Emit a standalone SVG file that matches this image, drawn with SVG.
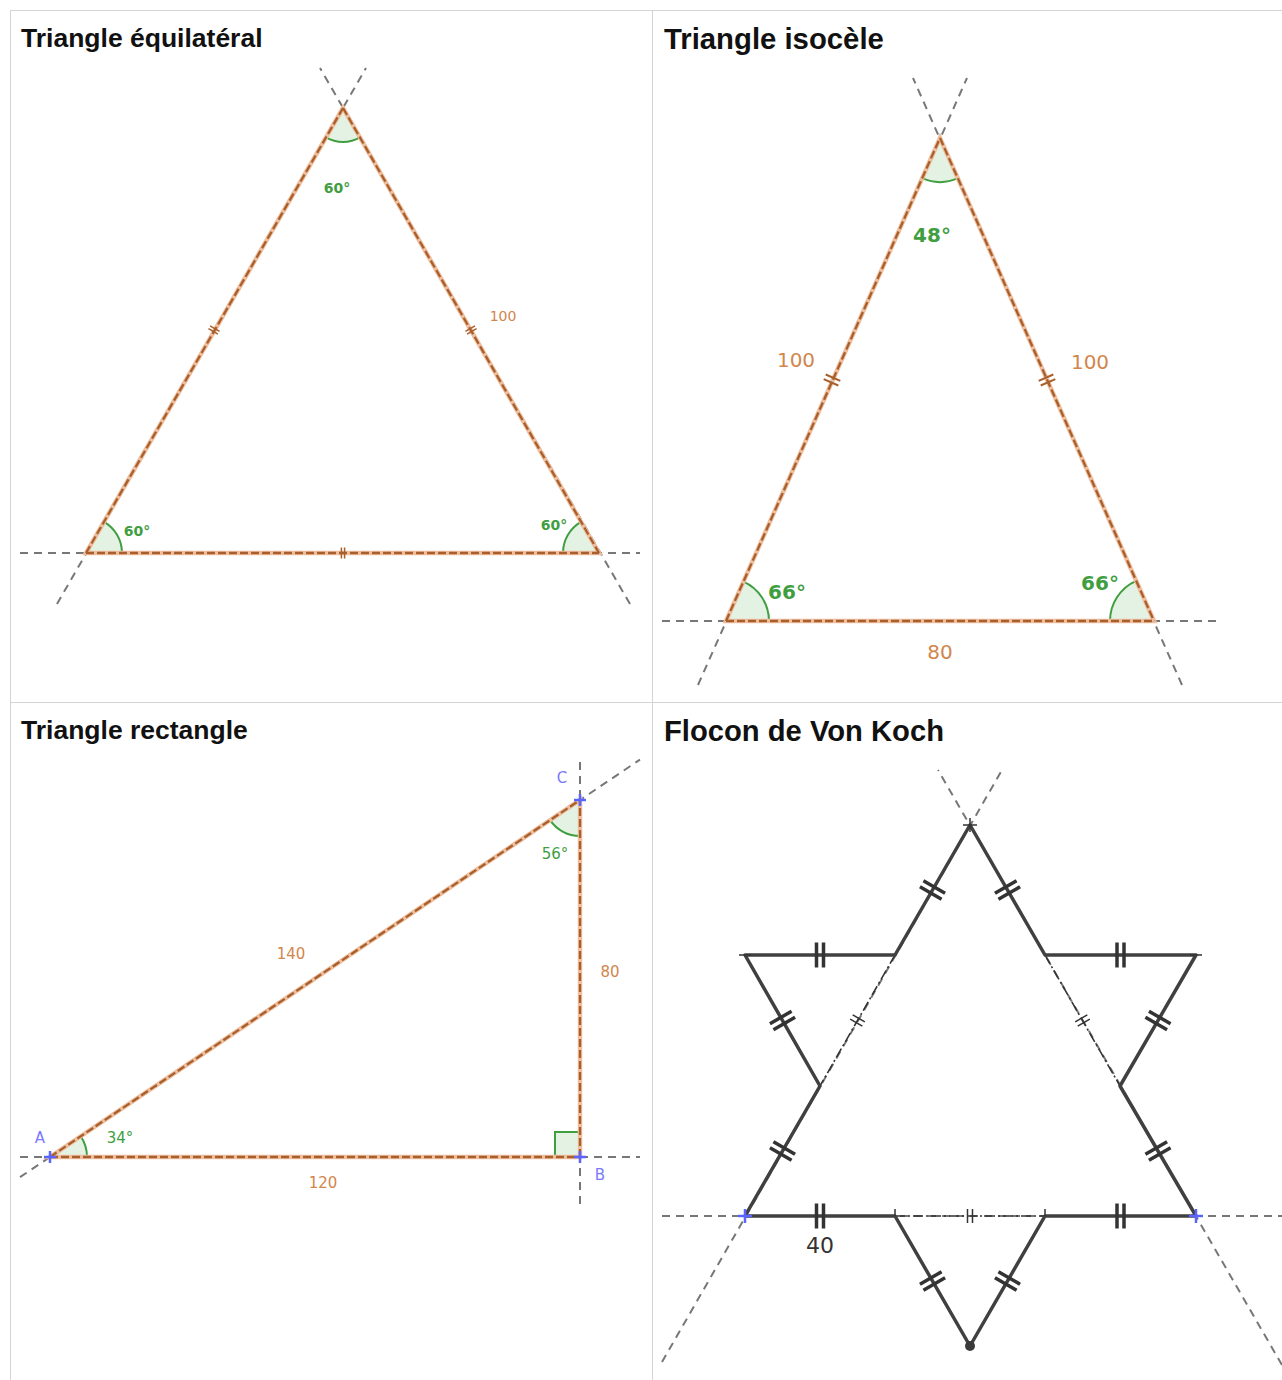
<svg xmlns="http://www.w3.org/2000/svg" width="1282" height="1380" viewBox="0 0 1282 1380">
<style>
.title{font-family:"Liberation Sans",Arial,sans-serif;font-weight:bold;fill:#111}
.grid{stroke:#d4d4d4;stroke-width:1;fill:none}
.ext{stroke:#777;stroke-width:2;stroke-dasharray:8 6;fill:none}
.segu{stroke:#eebf9f;stroke-width:4.5;fill:none;stroke-linecap:round}
.segd{stroke:#a95f2c;stroke-width:2.3;stroke-dasharray:8 3;fill:none}
.sec{fill:#e4f2e4;stroke:none}
.arc{fill:none;stroke:#3f9e3f;stroke-width:2}
.lbl{font-family:"DejaVu Sans","Liberation Sans",sans-serif;fill:#d2864c;text-anchor:middle}
.ang{font-family:"DejaVu Sans","Liberation Sans",sans-serif;fill:#3f9e3f;text-anchor:middle}
.pt{font-family:"DejaVu Sans","Liberation Sans",sans-serif;fill:#7a7aff;text-anchor:middle}
.blue{stroke:#5a64ff;stroke-width:2.5;fill:none}
.koch{stroke:#404040;stroke-width:3.5;fill:none;stroke-linejoin:round}
.dd{stroke:#333;stroke-width:1.6;fill:none;stroke-dasharray:10 3 2 3}
</style>
<defs>
<g id="tS" stroke="#a95f2c" stroke-width="1.5"><line x1="-1.6" y1="-5.5" x2="-1.6" y2="5.5"/><line x1="1.6" y1="-5.5" x2="1.6" y2="5.5"/></g>
<g id="tM" stroke="#a95f2c" stroke-width="2"><line x1="-2.5" y1="-8" x2="-2.5" y2="8"/><line x1="2.5" y1="-8" x2="2.5" y2="8"/></g>
<g id="tK" stroke="#333" stroke-width="3.5"><line x1="-3.5" y1="-12.5" x2="-3.5" y2="12.5"/><line x1="3.5" y1="-12.5" x2="3.5" y2="12.5"/></g>
<g id="tKi" stroke="#333" stroke-width="1.5"><line x1="-2.5" y1="-7" x2="-2.5" y2="7"/><line x1="2.5" y1="-7" x2="2.5" y2="7"/></g>
</defs>

<g id="grid">
<line class="grid" x1="10" y1="10.5" x2="1282" y2="10.5"/>
<line class="grid" x1="10.5" y1="10" x2="10.5" y2="1380"/>
<line class="grid" x1="652.5" y1="10" x2="652.5" y2="1380"/>
<line class="grid" x1="10" y1="702.5" x2="1282" y2="702.5"/>
</g>

<!-- Equilateral -->
<g id="equilateral">
<text class="title" x="21" y="47" font-size="26.5">Triangle équilatéral</text>
<g id="eq-ext">
<line class="ext" x1="20" y1="553" x2="640" y2="553"/>
<line class="ext" x1="57" y1="604" x2="366" y2="68"/>
<line class="ext" x1="630" y1="604" x2="320" y2="68"/>
</g>
<g id="eq-angles">
<path class="sec" d="M343,108 L360,137.4 A34,34 0 0 1 326,137.4 Z"/>
<path class="arc" d="M360,137.4 A34,34 0 0 1 326,137.4"/>
<path class="sec" d="M86,553 L104,521.8 A36,36 0 0 1 122,553 Z"/>
<path class="arc" d="M104,521.8 A36,36 0 0 1 122,553"/>
<path class="sec" d="M599,553 L563,553 A36,36 0 0 1 581,521.8 Z"/>
<path class="arc" d="M563,553 A36,36 0 0 1 581,521.8"/>
</g>
<g id="eq-sides">
<polygon class="segu" points="343,108 86,553 599,553"/>
<line class="segd" x1="86" y1="553" x2="343" y2="108"/>
<line class="segd" x1="343" y1="108" x2="599" y2="553"/>
<line class="segd" x1="86" y1="553" x2="599" y2="553"/>
</g>
<use href="#tS" transform="translate(214,330) rotate(-60)"/>
<use href="#tS" transform="translate(471,330) rotate(60)"/>
<use href="#tS" transform="translate(343,553)"/>
<text class="lbl" x="503" y="321" font-size="14">100</text>
<text class="ang" x="337" y="193" font-size="14" font-weight="bold">60°</text>
<text class="ang" x="137" y="536" font-size="14" font-weight="bold">60°</text>
<text class="ang" x="554" y="530" font-size="14" font-weight="bold">60°</text>
</g>

<!-- Isosceles -->
<g id="isocele">
<text class="title" x="664" y="49" font-size="29.3">Triangle isocèle</text>
<g id="iso-ext">
<line class="ext" x1="662" y1="621" x2="1220" y2="621"/>
<line class="ext" x1="698" y1="685" x2="967" y2="78"/>
<line class="ext" x1="1182" y1="685" x2="913" y2="78"/>
</g>
<g id="iso-angles">
<path class="sec" d="M940,138 L957.8,178.2 A44,44 0 0 1 922.2,178.2 Z"/>
<path class="arc" d="M957.8,178.2 A44,44 0 0 1 922.2,178.2"/>
<path class="sec" d="M726,621 L743.4,581.7 A43,43 0 0 1 769,621 Z"/>
<path class="arc" d="M743.4,581.7 A43,43 0 0 1 769,621"/>
<path class="sec" d="M1154,621 L1110,621 A44,44 0 0 1 1136.2,580.8 Z"/>
<path class="arc" d="M1110,621 A44,44 0 0 1 1136.2,580.8"/>
</g>
<g id="iso-sides">
<polygon class="segu" points="940,138 726,621 1154,621"/>
<line class="segd" x1="726" y1="621" x2="940" y2="138"/>
<line class="segd" x1="940" y1="138" x2="1154" y2="621"/>
<line class="segd" x1="726" y1="621" x2="1154" y2="621"/>
</g>
<use href="#tM" transform="translate(832,380) rotate(-66.1)"/>
<use href="#tM" transform="translate(1047,380) rotate(66.1)"/>
<text class="lbl" x="796" y="367" font-size="20">100</text>
<text class="lbl" x="1090" y="369" font-size="20">100</text>
<text class="lbl" x="940" y="659" font-size="20">80</text>
<text class="ang" x="932" y="242" font-size="20" font-weight="600">48°</text>
<text class="ang" x="787" y="599" font-size="20" font-weight="600">66°</text>
<text class="ang" x="1100" y="590" font-size="20" font-weight="600">66°</text>
</g>

<!-- Right triangle -->
<g id="rectangle">
<text class="title" x="21" y="739" font-size="26.5">Triangle rectangle</text>
<g id="rt-ext">
<line class="ext" x1="20" y1="1157" x2="640" y2="1157"/>
<line class="ext" x1="580" y1="762" x2="580" y2="1207"/>
<line class="ext" x1="20" y1="1177.2" x2="640" y2="759.6"/>
</g>
<g id="rt-angles">
<path class="sec" d="M50,1157 L80.7,1136.3 A37,37 0 0 1 87,1157 Z"/>
<path class="arc" d="M80.7,1136.3 A37,37 0 0 1 87,1157"/>
<path class="sec" d="M580,800 L580,836 A36,36 0 0 1 550.1,820.1 Z"/>
<path class="arc" d="M580,836 A36,36 0 0 1 550.1,820.1"/>
<path class="sec" d="M555,1157 L555,1132 L580,1132 L580,1157 Z"/>
<path class="arc" d="M555,1157 L555,1132 L580,1132"/>
</g>
<g id="rt-sides">
<polygon class="segu" points="50,1157 580,1157 580,800"/>
<line class="segd" x1="50" y1="1157" x2="580" y2="1157"/>
<line class="segd" x1="580" y1="1157" x2="580" y2="800"/>
<line class="segd" x1="50" y1="1157" x2="580" y2="800"/>
</g>
<g id="rt-points">
<path class="blue" d="M44,1157 H56 M50,1151 V1163"/>
<path class="blue" d="M574,1157 H586 M580,1151 V1163"/>
<path class="blue" d="M574,800 H586 M580,794 V806"/>
</g>
<text class="pt" x="40" y="1143" font-size="15">A</text>
<text class="pt" x="600" y="1180" font-size="15">B</text>
<text class="pt" x="562" y="783" font-size="15">C</text>
<text class="lbl" x="291" y="959" font-size="15">140</text>
<text class="lbl" x="610" y="977" font-size="15">80</text>
<text class="lbl" x="323" y="1188" font-size="15">120</text>
<text class="ang" x="120" y="1143" font-size="15">34°</text>
<text class="ang" x="555" y="859" font-size="15">56°</text>
</g>

<!-- Koch -->
<g id="koch">
<text class="title" x="664" y="741" font-size="29.2">Flocon de Von Koch</text>
<g id="koch-ext">
<line class="ext" x1="662" y1="1216" x2="1282" y2="1216"/>
<line class="ext" x1="662" y1="1362" x2="1002" y2="770"/>
<line class="ext" x1="1282" y1="1365" x2="938" y2="770"/>
</g>
<g id="koch-inner">
<line class="dd" x1="895" y1="955" x2="820" y2="1086"/>
<line class="dd" x1="1045" y1="955" x2="1120" y2="1086"/>
<line class="dd" x1="895" y1="1216" x2="1045" y2="1216"/>
</g>
<path id="koch-outline" class="koch" d="M970,825 L895,955 L745,955 L820,1086 L745,1216 L895,1216 L970,1346 L1045,1216 L1196,1216 L1120,1086 L1196,955 L1045,955 Z"/>
<g id="koch-ticks">
<use href="#tK" transform="translate(932.5,890) rotate(-60)"/>
<use href="#tK" transform="translate(820,955)"/>
<use href="#tK" transform="translate(782.5,1020.5) rotate(60)"/>
<use href="#tK" transform="translate(782.5,1151) rotate(-60)"/>
<use href="#tK" transform="translate(820,1216)"/>
<use href="#tK" transform="translate(932.5,1281) rotate(60)"/>
<use href="#tK" transform="translate(1007.5,1281) rotate(-60)"/>
<use href="#tK" transform="translate(1120.5,1216)"/>
<use href="#tK" transform="translate(1158,1151) rotate(60)"/>
<use href="#tK" transform="translate(1158,1020.5) rotate(-60)"/>
<use href="#tK" transform="translate(1120.5,955)"/>
<use href="#tK" transform="translate(1007.5,890) rotate(60)"/>
<use href="#tKi" transform="translate(857.5,1020.5) rotate(-60)"/>
<use href="#tKi" transform="translate(1082.5,1020.5) rotate(60)"/>
<use href="#tKi" transform="translate(970,1216)"/>
</g>
<g id="koch-points">
<path stroke="#333" stroke-width="1.5" d="M963,825 H977 M970,818 V832 M739,955 H751 M1190,955 H1202 M895,1209 V1216 M1045,1209 V1216"/>
<circle cx="970" cy="1346" r="5" fill="#3a3a3a"/>
<path class="blue" d="M738,1216 H752 M745,1209 V1223"/>
<path class="blue" d="M1189,1216 H1203 M1196,1209 V1223"/>
</g>
<text x="820" y="1253" font-size="22" text-anchor="middle" font-family="DejaVu Sans, Liberation Sans, sans-serif" fill="#333">40</text>
</g>
</svg>
